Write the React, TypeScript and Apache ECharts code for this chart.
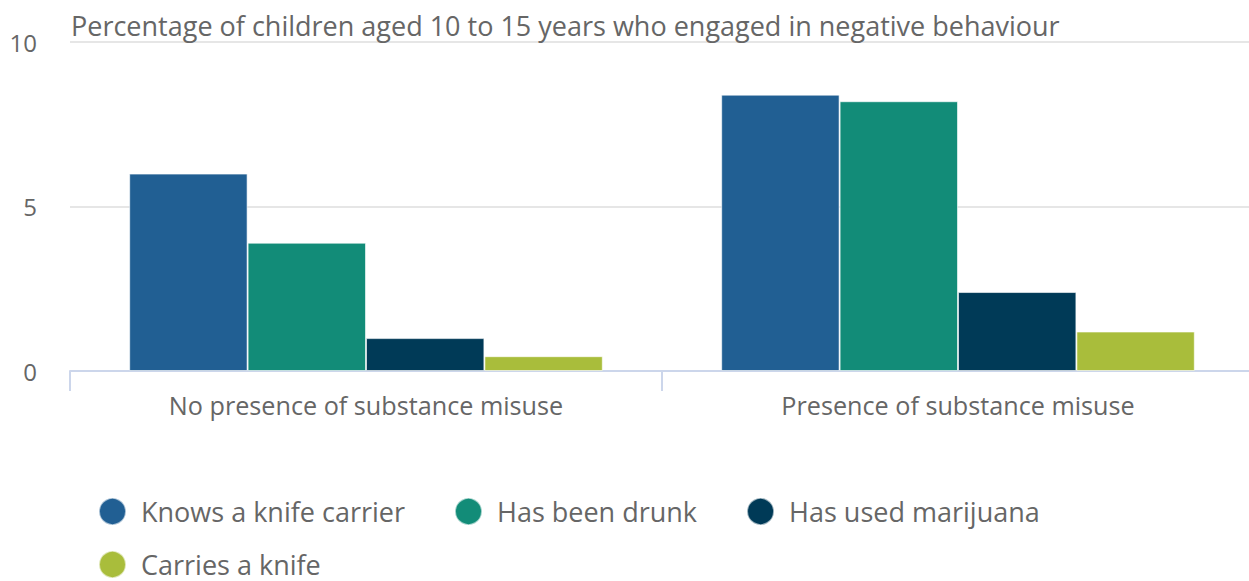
import React, { useEffect, useRef } from "react";
import * as echarts from "echarts";

const categories = ["No presence of substance misuse", "Presence of substance misuse"];
const seriesNames = ["Knows a knife carrier", "Has been drunk", "Has used marijuana", "Carries a knife"];
const knowsKnifeCarrier = [6.0, 8.4];
const hasBeenDrunk = [3.9, 8.2];
const hasUsedMarijuana = [1.0, 2.4];
const carriesKnife = [0.45, 1.2];
const colors = ["#215f93", "#128c78", "#003a57", "#a9bd3b"];
const titleText = "Percentage of children aged 10 to 15 years who engaged in negative behaviour";

const FONT = "'Open Sans', sans-serif";

export default function App() {
  const ref = useRef<HTMLDivElement>(null);
  useEffect(() => {
    if (!ref.current) return;
    const chart = echarts.init(ref.current, undefined, { renderer: "svg" });
    const values = [knowsKnifeCarrier, hasBeenDrunk, hasUsedMarijuana, carriesKnife];
    const legendText = { fontFamily: FONT, fontSize: 27, lineHeight: 27, color: "#666666", padding: [0, 0, 0, 10] };
    const legendBase = {
      left: 98,
      padding: 0,
      icon: "circle",
      itemWidth: 27,
      itemHeight: 27,
      itemGap: 49,
      textStyle: legendText,
    };
    chart.setOption({
      animation: false,
      title: {
        text: titleText,
        left: 71,
        top: 12,
        padding: 0,
        textStyle: { fontFamily: FONT, fontSize: 27, fontWeight: "normal", color: "#666666" },
      },
      legend: [
        { ...legendBase, data: seriesNames.slice(0, 3), top: 497 },
        { ...legendBase, data: seriesNames.slice(3), top: 550 },
      ],
      grid: { left: 70, top: 42, right: 6, height: 329, containLabel: false },
      xAxis: {
        type: "category",
        data: categories,
        boundaryGap: true,
        axisLine: { show: true, lineStyle: { color: "#ccd6eb", width: 2 } },
        axisTick: { show: true, length: 20, lineStyle: { color: "#ccd6eb", width: 2 } },
        axisLabel: { fontFamily: FONT, fontSize: 25.2, color: "#666666", margin: 21 },
      },
      yAxis: {
        type: "value",
        min: 0,
        max: 10,
        interval: 5,
        axisLine: { show: false },
        axisTick: { show: false },
        splitLine: { lineStyle: { color: "#e6e6e6", width: 2 } },
        axisLabel: { fontFamily: FONT, fontSize: 24, color: "#666666", margin: 33, padding: [4, 0, 0, 0] },
      },
      series: seriesNames.map((name, i) => ({
        name,
        type: "bar",
        data: values[i],
        barGap: "0%",
        barCategoryGap: "20%",
        itemStyle: { color: colors[i], borderColor: "rgba(255,255,255,0.6)", borderWidth: 1 },
      })),
    });
    return () => chart.dispose();
  }, []);
  return (
    <div
      style={{ position: "fixed", left: 0, top: 0, width: 1249, height: 581, overflow: "hidden", background: "#ffffff" }}
    >
      <div ref={ref} style={{ width: 1260, height: 581 }} />
    </div>
  );
}
